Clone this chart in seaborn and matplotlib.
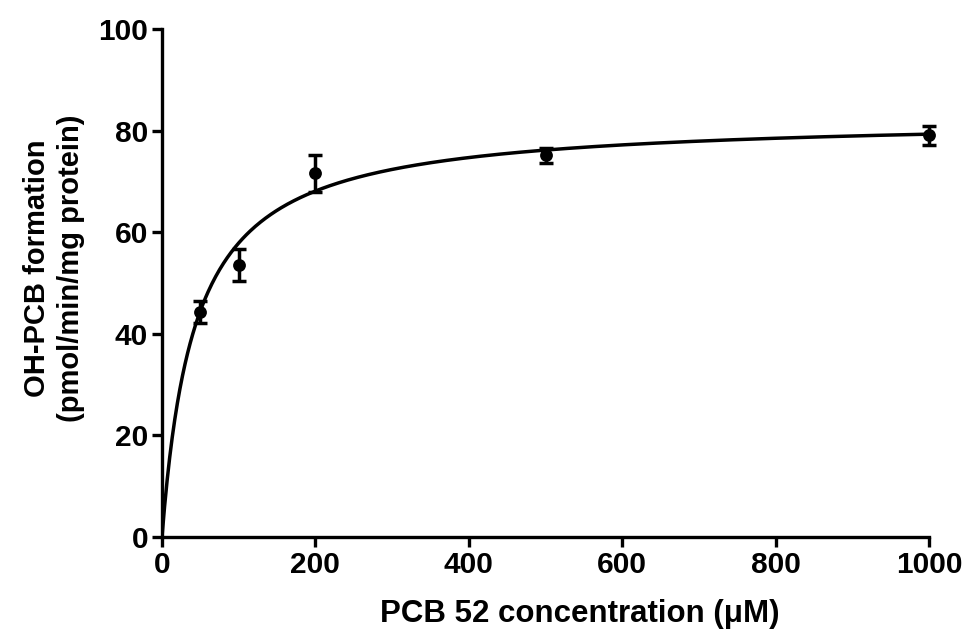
import numpy as np
import pandas as pd
import matplotlib
matplotlib.use("Agg")
import matplotlib.pyplot as plt
import seaborn as sns

# Measured formation rates (mean ± error) at each PCB 52 concentration
concentration_uM = [50, 100, 200, 500, 1000]
formation_mean = [44.3, 53.5, 71.6, 75.1, 79.1]
formation_err = [2.1, 3.2, 3.6, 1.5, 1.9]

# Michaelis-Menten fit parameters
vmax = 82.7
km = 42.9

sns.set_theme(style="ticks")
plt.rcParams["font.family"] = ["Liberation Sans", "DejaVu Sans"]
plt.rcParams["font.weight"] = "bold"
plt.rcParams["text.color"] = "black"
plt.rcParams["axes.labelcolor"] = "black"
plt.rcParams["xtick.color"] = "black"
plt.rcParams["ytick.color"] = "black"

fig = plt.figure(figsize=(9.66, 6.3), dpi=100)
ax = fig.add_axes([0.1677, 0.1476, 0.794, 0.8064])

# fitted curve
xs = np.linspace(0, 1000, 600)
fit = pd.DataFrame({"x": xs, "y": vmax * xs / (km + xs)})
sns.lineplot(data=fit, x="x", y="y", ax=ax, color="black", linewidth=2.5)

# error bars and mean points
eb = ax.errorbar(concentration_uM, formation_mean, yerr=formation_err, fmt="none",
                 ecolor="black", elinewidth=2.5, capsize=5, capthick=2.5, zorder=3)
for artist in eb.lines[1] + eb.lines[2]:
    artist.set_clip_on(False)
pts = pd.DataFrame({"x": concentration_uM, "y": formation_mean})
sns.scatterplot(data=pts, x="x", y="y", ax=ax, color="black", s=85,
                edgecolor="black", linewidth=0, zorder=4, clip_on=False)

ax.set_xlim(0, 1000)
ax.set_ylim(0, 100)
ax.set_xticks([0, 200, 400, 600, 800, 1000])
ax.set_yticks([0, 20, 40, 60, 80, 100])

for side in ["top", "right"]:
    ax.spines[side].set_visible(False)
for side in ["left", "bottom"]:
    ax.spines[side].set_linewidth(2.4)
    ax.spines[side].set_color("black")
ax.tick_params(axis="both", direction="out", length=7, width=2.4,
               color="black", labelcolor="black", labelsize=21.5, pad=3)
for lab in ax.get_xticklabels() + ax.get_yticklabels():
    lab.set_fontweight("bold")

ax.set_xlabel("PCB 52 concentration (\u03bcM)", fontsize=22.5, fontweight="bold")
ax.xaxis.set_label_coords(0.545, -0.122)
ax.set_ylabel("OH-PCB formation\n(pmol/min/mg protein)", fontsize=21,
              fontweight="bold", linespacing=1.3)
ax.yaxis.set_label_coords(-0.100, 0.53)

fig.savefig("out.png", dpi=100)
